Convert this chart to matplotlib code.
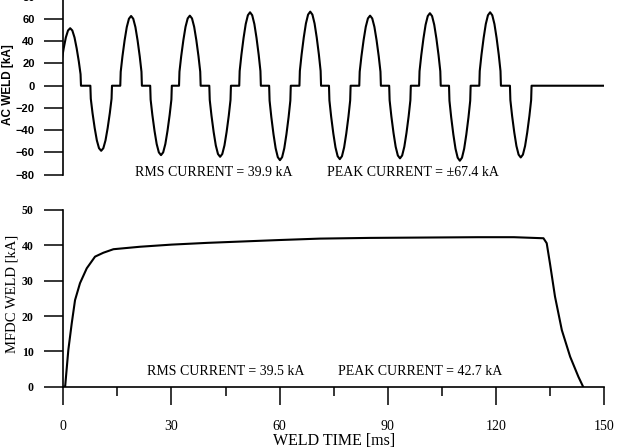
import matplotlib
matplotlib.use("Agg")
import matplotlib.pyplot as plt
from matplotlib.ticker import MultipleLocator

# AC weld: centre time [ms] and peak value [kA] of each half-cycle lobe
AC_LOBE_T = [1.9, 10.5, 18.8, 27.1, 35.1, 43.5, 51.8, 60.1,
             68.5, 76.7, 85.1, 93.4, 101.7, 110.0, 118.4, 126.9]
AC_LOBE_PEAK = [51.7, -58.5, 62.7, -62.4, 63.0, -63.9, 66.0, -66.9,
                66.6, -66.0, 63.0, -65.3, 65.2, -67.4, 66.0, -64.5]
AC_LOBE_WIDTH = 6.0  # ms of conduction per half cycle
# lobe outline read off one half cycle: position along lobe, fraction of peak
LOBE_POS = [0, .02, .1, .2, .3, .4, .5, .6, .7, .8, .9, .98, 1]
LOBE_FRAC = [0, .2, .42, .65, .84, .96, 1.0, .96, .84, .65, .42, .2, 0]

# MFDC weld current
DC_T = [0, 0.5, 1.39, 2.33, 3.25, 4.63, 6.5, 8.8, 11.1, 13.9, 21.3,
        30, 40, 50, 60, 71.2, 85, 100, 115, 125, 133.2,
        134.1, 135.0, 136.4, 138.3, 140.6, 142.9, 144.2]
DC_I = [0, 0, 10.4, 17.9, 24.5, 29.3, 33.5, 36.8, 37.9, 38.9, 39.6,
        40.2, 40.7, 41.1, 41.5, 41.9, 42.1, 42.2, 42.3, 42.3, 42.0,
        40.6, 34.9, 25.5, 16.0, 8.5, 2.8, 0]

SERIF = "Liberation Serif"
SANS = "Liberation Sans"


def ac_trace():
    t, i = [], []
    for c, pk in zip(AC_LOBE_T, AC_LOBE_PEAK):
        for p, f in zip(LOBE_POS, LOBE_FRAC):
            t.append(c - AC_LOBE_WIDTH / 2 + p * AC_LOBE_WIDTH)
            i.append(f * pk)
    t.append(150)
    i.append(0)
    return t, i


fig = plt.figure(figsize=(6.19, 4.48), dpi=100)

# ---- top: AC weld
ax1 = fig.add_axes([0.1023, 0.61, 0.8735, 0.3973])
t, i = ac_trace()
ax1.plot(t, i, color="black", lw=1.5)
ax1.set_xlim(0, 150)
ax1.set_ylim(-80, 80)
for s in ("top", "right", "bottom"):
    ax1.spines[s].set_visible(False)
ax1.spines["left"].set_linewidth(1.2)
ax1.set_xticks([])
ax1.yaxis.set_major_locator(MultipleLocator(20))
ax1.tick_params(axis="y", direction="out", length=13.5, width=1.1, pad=7)
for lab in ax1.get_yticklabels():
    lab.set_fontfamily(SANS)
    lab.set_fontweight("bold")
    lab.set_fontsize(8)
ax1.text(19.9, -77.6, "RMS CURRENT = 39.9 kA", fontfamily=SERIF,
         fontsize=10, va="center", ha="left")
ax1.text(73.1, -77.6, "PEAK CURRENT = \u00b167.4 kA", fontfamily=SERIF,
         fontsize=10, va="center", ha="left")

# ---- bottom: MFDC weld
ax2 = fig.add_axes([0.1023, 0.1368, 0.8735, 0.3945])
ax2.plot(DC_T, DC_I, color="black", lw=1.5)
ax2.set_xlim(0, 150)
ax2.set_ylim(0, 50)
for s in ("top", "right"):
    ax2.spines[s].set_visible(False)
for s in ("left", "bottom"):
    ax2.spines[s].set_linewidth(1.2)
ax2.xaxis.set_major_locator(MultipleLocator(30))
ax2.xaxis.set_minor_locator(MultipleLocator(15))
ax2.yaxis.set_major_locator(MultipleLocator(10))
ax2.tick_params(axis="x", which="major", direction="out", length=13,
                width=1.1, pad=11, labelsize=10)
ax2.tick_params(axis="x", which="minor", direction="out", length=6.5,
                width=1.1)
ax2.tick_params(axis="y", direction="out", length=13.5, width=1.1, pad=8)
for lab in ax2.get_xticklabels():
    lab.set_fontfamily(SERIF)
for lab in ax2.get_yticklabels():
    lab.set_fontfamily(SERIF)
    lab.set_fontweight("bold")
    lab.set_fontsize(8.5)
ax2.text(23.2, 4.2, "RMS CURRENT = 39.5 kA", fontfamily=SERIF,
         fontsize=10, va="center", ha="left")
ax2.text(76.2, 4.2, "PEAK CURRENT = 42.7 kA", fontfamily=SERIF,
         fontsize=10, va="center", ha="left")

fig.text(8 / 619, 1 - 85 / 448, "AC WELD [kA]", rotation=90, ha="center",
         va="center", fontfamily=SANS, fontweight="bold", fontsize=8.5)
fig.text(12.5 / 619, 1 - 294 / 448, "MFDC WELD [kA]", rotation=90,
         ha="center", va="center", fontfamily=SERIF, fontsize=10.5)
fig.text(333.7 / 619, 1 - 441 / 448, "WELD TIME [ms]", ha="center",
         va="center", fontfamily=SERIF, fontsize=11.5)

fig.savefig("out.png", dpi=100)
